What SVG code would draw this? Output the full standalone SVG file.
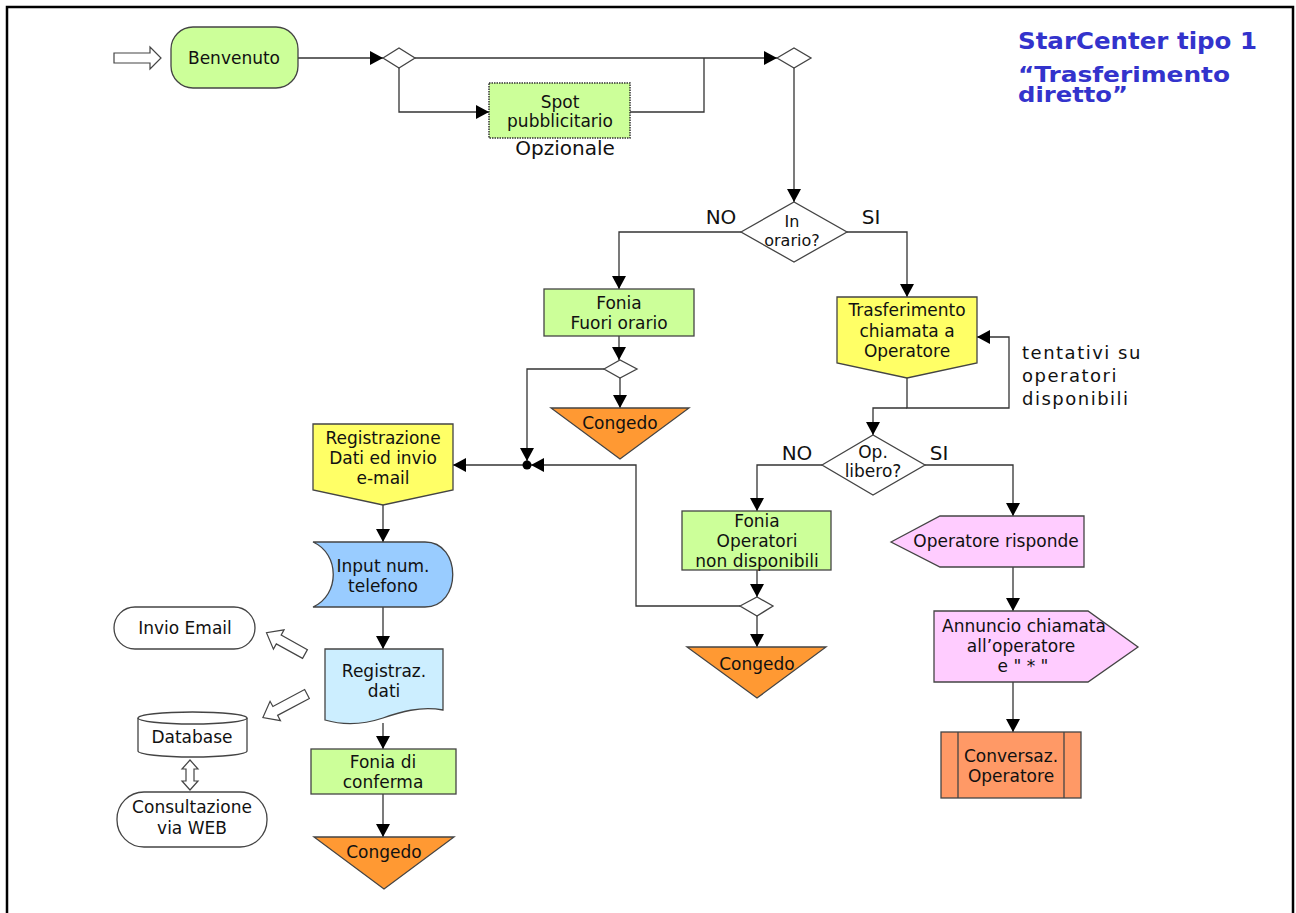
<svg xmlns="http://www.w3.org/2000/svg" width="1296" height="913" viewBox="0 0 1296 913">
<style>
text{font-family:"DejaVu Sans","Liberation Sans",sans-serif;font-size:17px;fill:#111;text-anchor:middle}
.shp{stroke:#444;stroke-width:1.3}
.ln{fill:none;stroke:#333;stroke-width:1.3}
.arr{marker-end:url(#ah)}
.hollow{fill:#fff;stroke:#444;stroke-width:1.2}
.green{fill:#ccff99}
.yellow{fill:#ffff66}
.orange{fill:#ff9933}
.pink{fill:#ffccff}
.lbl{font-size:20px}
.title{font-family:"DejaVu Sans","Liberation Sans",sans-serif;font-weight:bold;font-size:23px;fill:#3333cc;text-anchor:start}
</style>
<defs>
<marker id="ah" markerUnits="userSpaceOnUse" markerWidth="14" markerHeight="14" refX="13" refY="7" orient="auto">
<path d="M0,0 L13,7 L0,14 Z" fill="#000"/>
</marker>
</defs>
<rect x="7" y="7" width="1286" height="1000" fill="#fff" stroke="#000" stroke-width="2.5"/>

<g id="title">
<text class="title" x="1018" y="49" textLength="239" lengthAdjust="spacingAndGlyphs">StarCenter tipo 1</text>
<text class="title" x="1018" y="82" style="font-size:22px" textLength="212" lengthAdjust="spacingAndGlyphs">“Trasferimento</text>
<text class="title" x="1018" y="102" style="font-size:22px" textLength="110" lengthAdjust="spacingAndGlyphs">diretto”</text>
</g>

<g id="connectors">
<path class="ln arr" d="M298,58 H383"/>
<path class="ln arr" d="M415,58 H777"/>
<path class="ln arr" d="M399,68 V112 H489"/>
<path class="ln" d="M630,112 H704 V58"/>
<path class="ln arr" d="M794,68 V202"/>
<path class="ln arr" d="M741,232 H619 V289"/>
<path class="ln arr" d="M619,336 V360"/>
<path class="ln arr" d="M620,378 V408"/>
<path class="ln arr" d="M604,369 H527 V461"/>
<path class="ln arr" d="M847,232 H907 V297"/>
<path class="ln arr" d="M907,378 V408 H1009 V337 H977"/>
<path class="ln arr" d="M907,408 H873 V435"/>
<path class="ln arr" d="M822,465 H757 V511"/>
<path class="ln arr" d="M757,570 V597"/>
<path class="ln arr" d="M757,616 V647"/>
<path class="ln arr" d="M740,606 H636 V465 H531"/>
<path class="ln arr" d="M523,465 H453"/>
<path class="ln arr" d="M383,505 V542"/>
<path class="ln arr" d="M383,607 V649"/>
<path class="ln arr" d="M383,723 V749"/>
<path class="ln arr" d="M383,794 V837"/>
<path class="ln arr" d="M925,465 H1013 V516"/>
<path class="ln arr" d="M1013,567 V611"/>
<path class="ln arr" d="M1013,682 V732"/>
<circle cx="527" cy="465" r="4.5" fill="#000"/>
<polygon class="hollow" points="114,53 150,53 150,47 161,58 150,69 150,63 114,63"/>
<polygon class="hollow" transform="translate(305,654) rotate(208.9)" points="0,-5 30,-5 30,-11 44,0 30,11 30,5 0,5"/>
<polygon class="hollow" transform="translate(307,694) rotate(151.9)" points="0,-5 36,-5 36,-11 50,0 36,11 36,5 0,5"/>
<polygon class="hollow" points="190,760 198,769 194,769 194,781 198,781 190,790 182,781 186,781 186,769 182,769"/>
<text class="lbl" x="721" y="224">NO</text>
<text class="lbl" x="871" y="224">SI</text>
<text class="lbl" x="797" y="460">NO</text>
<text class="lbl" x="939" y="460">SI</text>
<text x="1022" y="359" style="text-anchor:start;font-size:18px;letter-spacing:1.5px">tentativi su</text>
<text x="1022" y="382" style="text-anchor:start;font-size:18px;letter-spacing:1.5px">operatori</text>
<text x="1022" y="405" style="text-anchor:start;font-size:18px;letter-spacing:1.5px">disponibili</text>
</g>

<g id="benvenuto">
<rect class="shp green" x="171" y="27" width="127" height="61" rx="22"/>
<text x="234" y="64">Benvenuto</text>
</g>

<g id="d1"><polygon class="shp" fill="#fff" points="383,58 399,48 415,58 399,68"/></g>
<g id="d2"><polygon class="shp" fill="#fff" points="777,58 794,48 811,58 794,68"/></g>

<g id="spot">
<rect class="green" x="489" y="83" width="141" height="55" stroke="#333" stroke-width="1.5" stroke-dasharray="1.5,1"/>
<text x="560" y="108">Spot</text>
<text x="560" y="127">pubblicitario</text>
<text x="565" y="155" style="font-size:20px">Opzionale</text>
</g>

<g id="inorario">
<polygon class="shp" fill="#fff" points="741,232 794,202 847,232 794,262"/>
<text x="792" y="227" style="font-size:16px">In</text>
<text x="792" y="246" style="font-size:16px">orario?</text>
</g>

<g id="fuorio">
<rect class="shp green" x="544" y="289" width="150" height="47"/>
<text x="619" y="309">Fonia</text>
<text x="619" y="329">Fuori orario</text>
</g>

<g id="d3"><polygon class="shp" fill="#fff" points="604,369 620,360 637,369 620,378"/></g>

<g id="congedo1">
<polygon class="shp orange" points="551,408 689,408 620,459"/>
<text x="620" y="429">Congedo</text>
</g>

<g id="trasf">
<path class="shp yellow" d="M837,297 H977 V363 L907,378 L837,363 Z"/>
<text x="907" y="316">Trasferimento</text>
<text x="907" y="337">chiamata a</text>
<text x="907" y="357">Operatore</text>
</g>

<g id="oplibero">
<polygon class="shp" fill="#fff" points="822,465 873,435 925,465 873,495"/>
<text x="873" y="458">Op.</text>
<text x="873" y="477">libero?</text>
</g>

<g id="fonia_ond">
<rect class="shp green" x="682" y="511" width="149" height="59"/>
<text x="757" y="527">Fonia</text>
<text x="757" y="547">Operatori</text>
<text x="757" y="567">non disponibili</text>
</g>

<g id="d4"><polygon class="shp" fill="#fff" points="740,606 757,597 773,606 757,616"/></g>

<g id="congedo2">
<polygon class="shp orange" points="687,647 826,647 757,698"/>
<text x="757" y="670">Congedo</text>
</g>

<g id="registrazione">
<path class="shp yellow" d="M313,424 H453 V490 L383,505 L313,490 Z"/>
<text x="383" y="444">Registrazione</text>
<text x="383" y="464">Dati ed invio</text>
<text x="383" y="484">e-mail</text>
</g>

<g id="input">
<path class="shp" fill="#99ccff" d="M313,542 H425 C462,542 462,607 425,607 H313 C340,595 340,554 313,542 Z"/>
<text x="383" y="572">Input num.</text>
<text x="383" y="592">telefono</text>
</g>

<g id="registraz">
<path class="shp" fill="#cceeff" d="M325,649 H443 V710 C420,706 400,712 383,718 C362,725 342,725 325,720 Z"/>
<text x="384" y="677">Registraz.</text>
<text x="384" y="697">dati</text>
</g>

<g id="fonia_conf">
<rect class="shp green" x="311" y="749" width="145" height="45"/>
<text x="383" y="768">Fonia di</text>
<text x="383" y="788">conferma</text>
</g>

<g id="congedo3">
<polygon class="shp orange" points="314,837 454,837 384,889"/>
<text x="384" y="858">Congedo</text>
</g>

<g id="invio_email">
<rect class="shp" fill="#fff" x="114" y="607" width="141" height="42" rx="21"/>
<text x="185" y="634">Invio Email</text>
</g>

<g id="database">
<path class="shp" fill="#fff" d="M138,718 V751 A54.5,6 0 0 0 247,751 V718 A54.5,6 0 0 0 138,718 Z"/>
<path class="shp" fill="none" d="M138,718 A54.5,6 0 0 0 247,718"/>
<text x="192" y="743">Database</text>
</g>

<g id="consultazione">
<rect class="shp" fill="#fff" x="117" y="792" width="150" height="55" rx="27"/>
<text x="192" y="813">Consultazione</text>
<text x="192" y="834">via WEB</text>
</g>

<g id="op_risponde">
<path class="shp pink" d="M891,542 L940,516 H1084 V567 H940 Z"/>
<text x="996" y="547">Operatore risponde</text>
</g>

<g id="annuncio">
<path class="shp pink" d="M934,611 H1088 L1138,647 L1088,682 H934 Z"/>
<text x="1024" y="632">Annuncio chiamata</text>
<text x="1021" y="652">all’operatore</text>
<text x="1023" y="672">e " * "</text>
</g>

<g id="conversaz">
<rect class="shp" fill="#ff9966" x="941" y="732" width="140" height="66"/>
<line class="shp" x1="958" y1="732" x2="958" y2="798"/>
<line class="shp" x1="1064" y1="732" x2="1064" y2="798"/>
<text x="1011" y="762">Conversaz.</text>
<text x="1011" y="782">Operatore</text>
</g>
</svg>
